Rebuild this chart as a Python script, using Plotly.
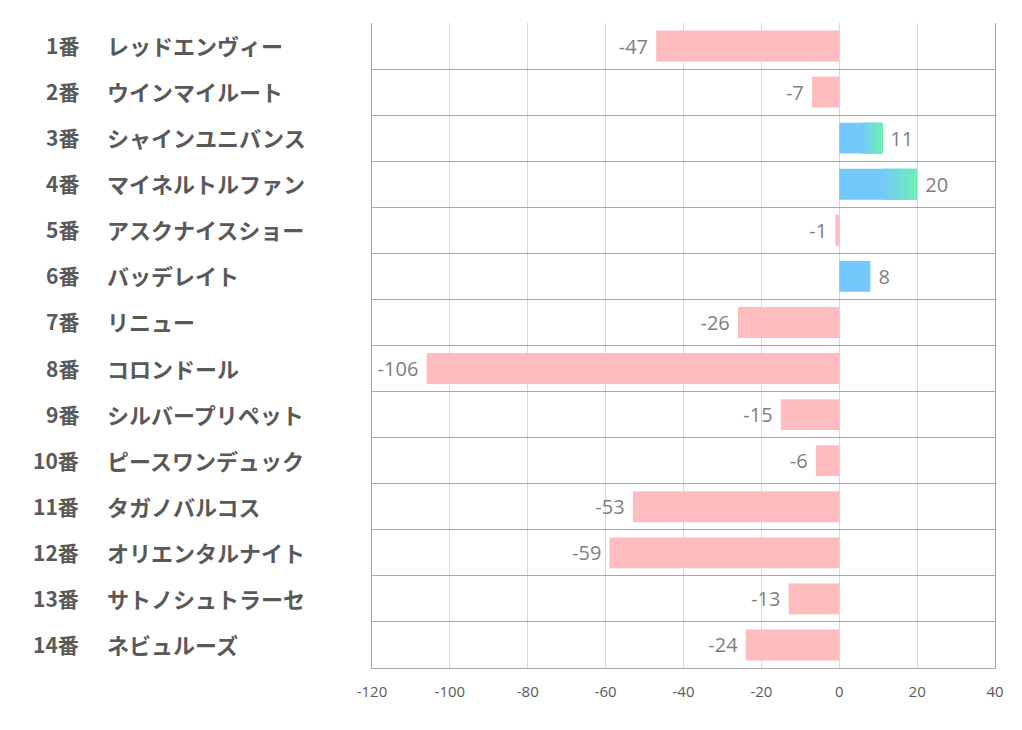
import plotly.graph_objects as go

numbers = ["1番", "2番", "3番", "4番", "5番", "6番", "7番", "8番", "9番", "10番", "11番", "12番", "13番", "14番"]
names = ["レッドエンヴィー", "ウインマイルート", "シャインユニバンス", "マイネルトルファン",
         "アスクナイスショー", "バッデレイト", "リニュー", "コロンドール", "シルバープリペット",
         "ピースワンデュック", "タガノバルコス", "オリエンタルナイト", "サトノシュトラーセ", "ネビュルーズ"]
values = [-47, -7, 11, 20, -1, 8, -26, -106, -15, -6, -53, -59, -13, -24]
tick_vals = [-120, -100, -80, -60, -40, -20, 0, 20, 40]

PINK = "#ffbcbf"
BLUE = (116, 200, 252)
GREEN = (110, 240, 178)
TEXT = "#595959"

OFF = 8  # page body margin
W, H = 1022, 730
ML, MR, MT, MB = 372 - OFF, 35, 23 - OFF, 70
PW = W - ML - MR

fig = go.Figure()

colors = [PINK if v < 0 else "rgb(%d,%d,%d)" % BLUE for v in values]
fig.add_trace(go.Bar(
    x=values, y=names, orientation="h",
    marker=dict(color=colors, line=dict(width=0)),
    text=[(" %d" % v) if v > 0 else ("%d " % v) for v in values], textposition="outside",
    textfont=dict(family="Open Sans", size=20, color="#7f7f7f"),
    cliponaxis=False, hoverinfo="skip",
))

# gradient overlay for larger positive bars (blue -> green over second part)
N = 24
for i, v in enumerate(values):
    if v >= 10:
        start = v * 0.55
        seg = (v - start) / N
        for k in range(N):
            t = (k + 0.5) / N
            c = tuple(int(BLUE[j] + (GREEN[j] - BLUE[j]) * t) for j in range(3))
            fig.add_trace(go.Bar(
                x=[seg * 1.02], y=[names[i]], base=[start + k * seg], orientation="h",
                marker=dict(color="rgb(%d,%d,%d)" % c, line=dict(width=0)),
                hoverinfo="skip", showlegend=False,
            ))

for num, name in zip(numbers, names):
    fig.add_annotation(x=(81 - OFF - ML) / PW, xref="paper", y=name, yref="y",
                       text=num, showarrow=False, xanchor="right", yshift=1,
                       font=dict(family="Noto Sans CJK JP", size=21, color=TEXT, weight="bold"))
    fig.add_annotation(x=(105 - OFF - ML) / PW, xref="paper", y=name, yref="y",
                       text=name, showarrow=False, xanchor="left", yshift=1,
                       font=dict(family="Noto Sans CJK JP", size=22, color=TEXT, weight="bold"))

fig.update_layout(
    width=W, height=H,
    margin=dict(l=ML, r=MR, t=MT, b=MB),
    plot_bgcolor="white", paper_bgcolor="white",
    barmode="overlay", bargap=0.33, showlegend=False,
    xaxis=dict(range=[-120, 40], tickvals=tick_vals, ticktext=[str(t) for t in tick_vals],
               showgrid=True, gridcolor="#d9d9d9", gridwidth=1, zeroline=False,
               showline=True, linecolor="#a6a6a6", linewidth=1,
               tickfont=dict(family="Open Sans", size=15, color=TEXT), ticks="", ticklen=0,
               ticklabelstandoff=10),
    yaxis=dict(autorange="reversed", type="category", tickson="boundaries",
               showgrid=True, gridcolor="#a6a6a6", gridwidth=1,
               showticklabels=False, ticks="", showline=True, mirror=True,
               linecolor="#a6a6a6", linewidth=1),
)

fig.write_html("out.html")
